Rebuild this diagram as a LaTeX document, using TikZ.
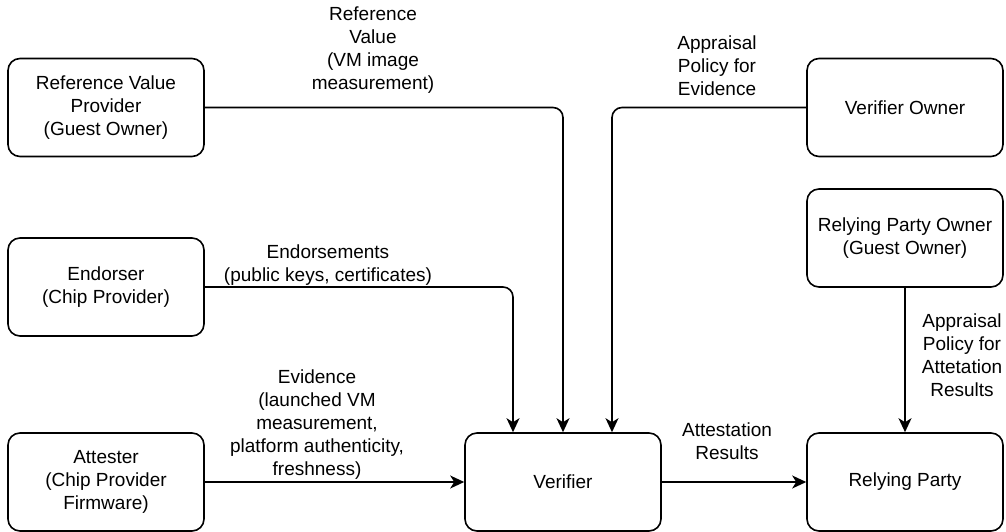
\documentclass[tikz,border=0pt]{standalone}
\usepackage{fontspec}
\setmainfont{Liberation Sans}
\usetikzlibrary{arrows.meta}
\begin{document}
\begin{tikzpicture}[x=1pt,y=-1pt,
  box/.style={draw, line width=1.6pt, rounded corners=12pt, minimum width=196pt,
    minimum height=98pt, align=center, inner sep=0pt, font=\fontsize{19}{23}\selectfont},
  lbl/.style={align=center, inner sep=0pt, font=\fontsize{19}{23}\selectfont},
  flow/.style={line width=1.6pt, rounded corners=10pt,
    -{Stealth[length=14pt,width=13pt,inset=4pt]}}
]
\useasboundingbox (0,0) rectangle (1006,532);

% parties
\node[box] (rvp) at (106,107.5) {Reference Value\\Provider\\(Guest Owner)};
\node[box] (endo) at (106,287) {Endorser\\(Chip Provider)};
\node[box] (att) at (106,482) {Attester\\(Chip Provider\\Firmware)};
\node[box] (ver) at (563,482) {Verifier};
\node[box] (rp) at (905,482) {Relying Party};
\node[box] (vo) at (905,107.5) {Verifier Owner};
\node[box] (rpo) at (905,238) {Relying Party Owner\\(Guest Owner)};

% flows into the verifier
\draw[flow] (rvp.east) -| (ver.north);
\draw[flow] (endo.east) -| ([xshift=-50pt]ver.north);
\draw[flow] (vo.west) -| ([xshift=49pt]ver.north);
\draw[flow] (att) -- (ver);
\draw[flow] (ver) -- (rp);
\draw[flow] (rpo) -- (rp);

% flow labels
\node[lbl] (lrv) at (373,50) {Reference\\Value\\(VM image\\measurement)};
\node[lbl] (lap) at (717,66) {Appraisal\\Policy for\\Evidence};
\node[lbl] (len) at (328,265) {Endorsements\\(public keys, certificates)};
\node[lbl] (lev) at (317,425) {Evidence\\(launched VM\\measurement,\\platform authenticity,\\freshness)};
\node[lbl] (lar) at (727,441) {Attestation\\Results};
\node[lbl] (lpa) at (962,355) {Appraisal\\Policy for\\Attetation\\Results};
\end{tikzpicture}
\end{document}
